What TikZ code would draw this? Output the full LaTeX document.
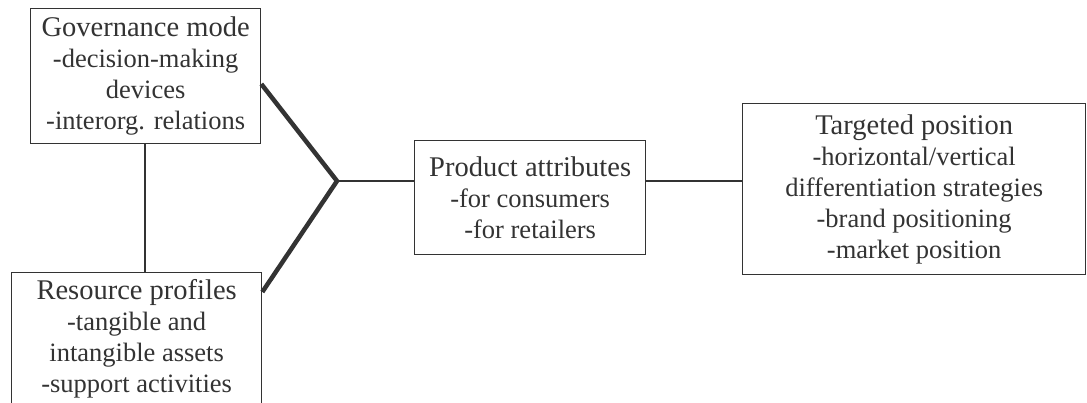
\documentclass[tikz,border=0pt]{standalone}
\usepackage{fontspec}
\setmainfont{Liberation Serif}
\usetikzlibrary{positioning}

\definecolor{ink}{HTML}{333333}
\newcommand{\boxhead}[1]{{\fontsize{28.5}{31}\selectfont #1}}

\tikzset{
  factor/.style={draw=ink,line width=1.3pt,text=ink,align=center,inner sep=0pt,
    anchor=north west,font=\fontsize{26.5}{31}\selectfont},
  link/.style={draw=ink,line width=1.3pt},
  merge/.style={draw=ink,line width=4.5pt}
}

\begin{document}
\begin{tikzpicture}[x=1pt,y=-1pt]
  \useasboundingbox (0,0) rectangle (1087,403);

  \node[factor,minimum width=230pt,minimum height=135pt] (gov) at (30,8)
    {\boxhead{Governance mode}\\-decision-making\\devices\\-interorg. relations};
  \node[factor,minimum width=250pt,minimum height=132pt] (res) at (11,272)
    {\boxhead{Resource profiles}\\-tangible and\\intangible assets\\-support activities};
  \node[factor,minimum width=231pt,minimum height=114pt] (prod) at (414,140)
    {\boxhead{Product attributes}\\-for consumers\\-for retailers};
  \node[factor,minimum width=343pt,minimum height=171pt] (tgt) at (742,103)
    {\boxhead{Targeted position}\\-horizontal/vertical\\differentiation strategies\\-brand positioning\\-market position};

  \coordinate (jn) at (337,181);

  \draw[link] (gov.south -| 145,0) -- (res.north -| 145,0);
  \draw[merge,line join=miter] ([yshift=-76pt]gov.north east) -- (jn) -- ([yshift=-20pt]res.north east);
  \draw[link] (jn) -- (jn -| prod.west);
  \draw[link] (jn -| prod.east) -- (jn -| tgt.west);
\end{tikzpicture}
\end{document}
